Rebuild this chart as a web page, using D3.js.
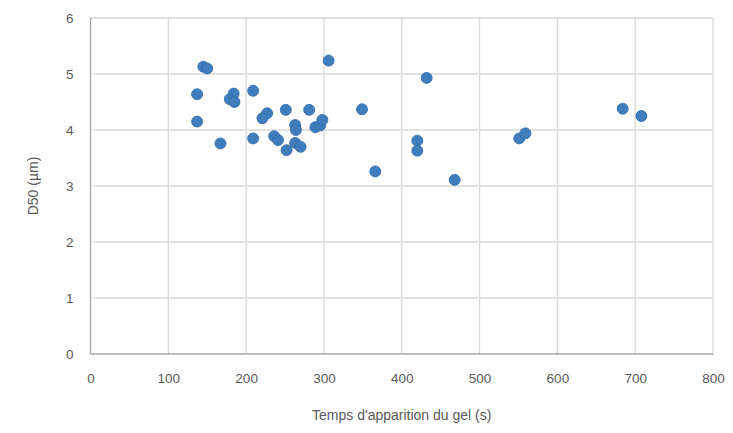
<!DOCTYPE html>
<html><head><meta charset="utf-8">
<script src="https://cdn.jsdelivr.net/npm/d3@7"></script>
<style>body{margin:0;background:#fff;}svg{display:block;}</style>
</head><body>
<svg id="c" width="733" height="433"></svg>
<script>
const xValues = [145,150,137,137,167,184,179,185,209,209,227,221,236,241,251,252,263,264,263,270,281,289,295,298,306,349,366,432,420,420,468,551,559,684,708];
const yValues = [5.13,5.10,4.64,4.15,3.76,4.65,4.55,4.50,4.70,3.85,4.30,4.21,3.89,3.82,4.36,3.64,4.09,4.00,3.77,3.70,4.36,4.05,4.08,4.18,5.24,4.37,3.26,4.93,3.81,3.63,3.11,3.85,3.94,4.38,4.25];
const xTicks = [0,100,200,300,400,500,600,700,800];
const yTicks = [0,1,2,3,4,5,6];
const xTitle = "Temps d'apparition du gel (s)";
const yTitle = "D50 (µm)";

const svg = d3.select("#c");
const x = d3.scaleLinear().domain([0,800]).range([90.5,713]);
const y = d3.scaleLinear().domain([0,6]).range([354,18]);
const font = "'Liberation Sans', Arial, sans-serif";

const g = svg.append("g");
g.selectAll(".vg").data(xTicks.slice(1)).join("line")
  .attr("x1",d=>x(d)).attr("x2",d=>x(d)).attr("y1",y(0)).attr("y2",y(6))
  .attr("stroke","#d9d9d9").attr("stroke-width",1.3);
g.selectAll(".hg").data(yTicks.slice(1)).join("line")
  .attr("x1",x(0)).attr("x2",x(800)).attr("y1",d=>y(d)).attr("y2",d=>y(d))
  .attr("stroke","#d9d9d9").attr("stroke-width",1.3);
g.append("line").attr("x1",x(0)).attr("x2",x(0)).attr("y1",y(0)).attr("y2",y(6)).attr("stroke","#a6a6a6").attr("stroke-width",1.3);
g.append("line").attr("x1",x(0)).attr("x2",x(800)).attr("y1",y(0)).attr("y2",y(0)).attr("stroke","#a6a6a6").attr("stroke-width",1.3);

const xAxis = svg.append("g").attr("transform",`translate(0,${y(0)})`)
  .call(d3.axisBottom(x).tickValues(xTicks).tickFormat(d3.format("d")).tickSize(0).tickPadding(19));
const yAxis = svg.append("g").attr("transform",`translate(${x(0)},0)`)
  .call(d3.axisLeft(y).tickValues(yTicks).tickFormat(d3.format("d")).tickSize(0).tickPadding(17));
[xAxis,yAxis].forEach(a=>{
  a.select(".domain").remove();
  a.selectAll("text").attr("fill","#595959").style("font-family",font).style("font-size","13.5px");
});

const data = xValues.map((v,i)=>({x:v,y:yValues[i]}));
svg.append("g").selectAll("circle").data(data).join("circle")
  .attr("cx",d=>x(d.x)).attr("cy",d=>y(d.y)).attr("r",5.5)
  .attr("fill","#3f7dbd").attr("stroke","#2f6aa6").attr("stroke-width",0.8);

svg.append("text").attr("x",(x(0)+x(800))/2).attr("y",420).attr("text-anchor","middle")
  .attr("fill","#595959").style("font-family",font).style("font-size","14px").text(xTitle);
svg.append("text").attr("transform",`translate(38,${y(3)}) rotate(-90)`).attr("text-anchor","middle")
  .attr("fill","#595959").style("font-family",font).style("font-size","14px").text(yTitle);
</script>
</body></html>
